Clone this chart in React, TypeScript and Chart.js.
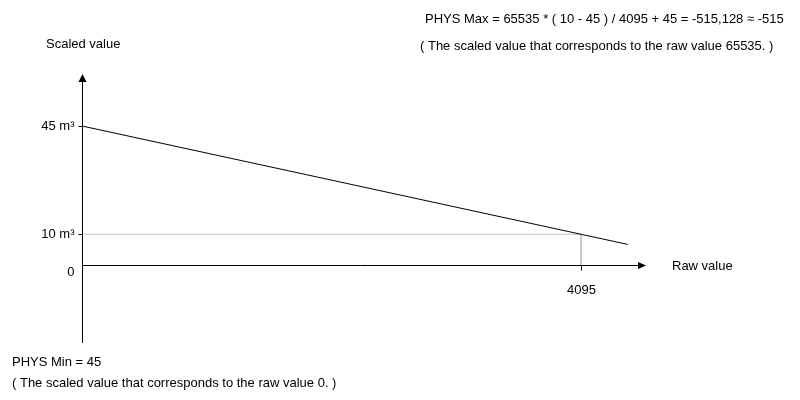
import React, { useEffect, useRef } from "react";
import { Chart, registerables } from "chart.js";

Chart.register(...registerables);

// ---- data ----
const rawValues = [0, 4478];
const scaledValues = [45, 6.7];
const calibRaw = [0, 4095, 4095];
const calibScaled = [10, 10, 0];
const yTickValues = [45, 10, 0];
const yTickLabels = ["45 m³", "10 m³", "0"];
const xTickValues = [4095];
const xTickLabels = ["4095"];
const yAxisTitle = "Scaled value";
const xAxisTitle = "Raw value";
const maxFormula = "PHYS Max = 65535 * ( 10 - 45 ) / 4095 + 45 = -515,128 ≈ -515";
const maxNote = "( The scaled value that corresponds to the raw value 65535. )";
const minFormula = "PHYS Min = 45";
const minNote = "( The scaled value that corresponds to the raw value 0. )";

const FONT = '13px "Liberation Sans", Arial, sans-serif';

const axesPlugin = {
  id: "axesPlugin",
  afterDatasetsDraw(chart: any) {
    const ctx = chart.ctx;
    const xs = chart.scales.x;
    const ys = chart.scales.y;
    const area = chart.chartArea;
    const x0 = Math.round(xs.getPixelForValue(0)) + 0.5;
    const y0 = Math.round(ys.getPixelForValue(0)) + 0.5;
    ctx.save();
    ctx.strokeStyle = "#000";
    ctx.fillStyle = "#000";
    ctx.lineWidth = 1;
    // y axis
    ctx.beginPath();
    ctx.moveTo(x0, area.bottom);
    ctx.lineTo(x0, area.top + 6);
    ctx.stroke();
    ctx.beginPath();
    ctx.moveTo(x0, area.top - 1);
    ctx.lineTo(x0 - 4, area.top + 7);
    ctx.lineTo(x0 + 4, area.top + 7);
    ctx.closePath();
    ctx.fill();
    // x axis
    ctx.beginPath();
    ctx.moveTo(x0, y0);
    ctx.lineTo(area.right - 6, y0);
    ctx.stroke();
    ctx.beginPath();
    ctx.moveTo(area.right + 1, y0);
    ctx.lineTo(area.right - 7, y0 - 3.5);
    ctx.lineTo(area.right - 7, y0 + 3.5);
    ctx.closePath();
    ctx.fill();
    // y ticks
    ctx.font = FONT;
    ctx.textAlign = "right";
    ctx.textBaseline = "middle";
    yTickValues.forEach((v, i) => {
      const py = Math.round(ys.getPixelForValue(v)) + 0.5;
      if (v !== 0) {
        ctx.beginPath();
        ctx.moveTo(x0 - 4, py);
        ctx.lineTo(x0, py);
        ctx.stroke();
        ctx.fillText(yTickLabels[i], x0 - 8, py);
      } else {
        ctx.fillText(yTickLabels[i], x0 - 8, py + 7);
      }
    });
    // x ticks
    ctx.textAlign = "center";
    ctx.textBaseline = "middle";
    xTickValues.forEach((v, i) => {
      const px = Math.round(xs.getPixelForValue(v)) + 0.5;
      ctx.beginPath();
      ctx.moveTo(px, y0);
      ctx.lineTo(px, y0 + 5);
      ctx.stroke();
      ctx.fillText(xTickLabels[i], px, y0 + 25);
    });
    // titles and notes
    ctx.textAlign = "left";
    ctx.fillText(yAxisTitle, 46, 44);
    ctx.fillText(xAxisTitle, area.right + 27, y0 + 1);
    ctx.fillText(maxFormula, 425, 19);
    ctx.fillText(maxNote, 420, 46);
    ctx.fillText(minFormula, 12, 362);
    ctx.fillText(minNote, 12, 383);
    ctx.restore();
  },
};

export default function App() {
  const ref = useRef<HTMLCanvasElement | null>(null);
  useEffect(() => {
    document.body.style.margin = "0";
    const canvas = ref.current;
    if (!canvas) return;
    const chart = new Chart(canvas, {
      type: "scatter",
      data: {
        datasets: [
          {
            data: calibRaw.map((x, i) => ({ x, y: calibScaled[i] })),
            showLine: true,
            borderColor: "#c0c0c0",
            borderWidth: 1,
            pointRadius: 0,
            order: 2,
          },
          {
            data: rawValues.map((x, i) => ({ x, y: scaledValues[i] })),
            showLine: true,
            borderColor: "#000",
            borderWidth: 1,
            pointRadius: 0,
            order: 1,
          },
        ],
      },
      options: {
        responsive: false,
        animation: false,
        events: [],
        layout: { padding: { left: 82, right: 155, top: 75, bottom: 57 } },
        plugins: { legend: { display: false }, tooltip: { enabled: false } },
        scales: {
          x: { type: "linear", min: 0, max: 4620, display: false },
          y: { type: "linear", min: -25.2, max: 61.5, display: false },
        },
      },
      plugins: [axesPlugin],
    });
    return () => chart.destroy();
  }, []);
  return (
    <div style={{ width: 800, height: 400, background: "#fff" }}>
      <canvas ref={ref} width={800} height={400} style={{ display: "block" }} />
    </div>
  );
}
